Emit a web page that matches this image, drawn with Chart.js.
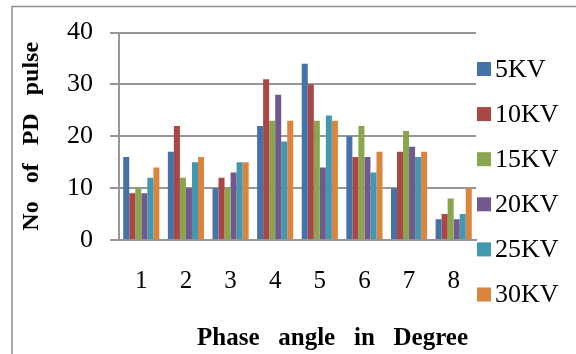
<!DOCTYPE html>
<html>
<head>
<meta charset="utf-8">
<script src="https://cdn.jsdelivr.net/npm/chart.js@4"></script>
<style>
  html, body { margin: 0; padding: 0; background: #fff; }
  #wrap { width: 576px; height: 354px; }
</style>
</head>
<body>
<div id="wrap"><canvas id="pdChart" width="576" height="354"></canvas></div>
<script>
// phase angle groups on the x axis
const phases = ['1', '2', '3', '4', '5', '6', '7', '8'];
// number of PD pulses per voltage level
const kv5  = [16, 17, 10, 22, 34, 20, 10, 4];
const kv10 = [9, 22, 12, 31, 30, 16, 17, 5];
const kv15 = [10, 12, 10, 23, 23, 22, 21, 8];
const kv20 = [9, 10, 13, 28, 14, 16, 18, 4];
const kv25 = [12, 15, 15, 19, 24, 13, 16, 5];
const kv30 = [14, 16, 15, 23, 23, 17, 17, 10];
const seriesNames = ['5KV', '10KV', '15KV', '20KV', '25KV', '30KV'];
const yTicks = [0, 10, 20, 30, 40];

const colors = ['#4572A7', '#AA4643', '#89A54E', '#71588F', '#4198AF', '#DB843D'];
const serif = "'Liberation Serif', 'Times New Roman', serif";
const gridGray = '#969696';

// frame, legend and x title
const extras = {
  id: 'extras',
  beforeDraw(chart) {
    const c = chart.ctx;
    c.save();
    c.strokeStyle = '#8f8f8f';
    c.lineWidth = 1.5;
    c.beginPath();
    c.moveTo(12, 360);
    c.lineTo(12, 6.5);
    c.lineTo(580, 6.5);
    c.stroke();
    c.restore();
  },
  afterDraw(chart) {
    const c = chart.ctx;
    const area = chart.chartArea;
    c.save();
    // legend
    c.font = '26px ' + serif;
    c.textBaseline = 'middle';
    c.textAlign = 'left';
    chart.data.datasets.forEach((ds, i) => {
      const y = 69 + i * 45.1;
      c.fillStyle = ds.backgroundColor;
      c.fillRect(area.right + 1, y - 7, 14, 14);
      c.fillStyle = '#000';
      c.fillText(ds.label, area.right + 19, y + 1);
    });
    // x axis title
    c.font = 'bold 25px ' + serif;
    c.textAlign = 'center';
    c.textBaseline = 'alphabetic';
    c.fillText('Phase   angle   in   Degree', (area.left + area.right) / 2 + 35, 345);
    c.restore();
  }
};

const allSeries = [kv5, kv10, kv15, kv20, kv25, kv30];

new Chart(document.getElementById('pdChart'), {
  type: 'bar',
  data: {
    labels: phases,
    datasets: allSeries.map((vals, i) => ({
      label: seriesNames[i],
      data: vals,
      backgroundColor: colors[i],
      borderWidth: 0,
      categoryPercentage: 0.81,
      barPercentage: 1
    }))
  },
  options: {
    responsive: false,
    animation: false,
    devicePixelRatio: 1,
    layout: { padding: { left: 12, right: 100, top: 30, bottom: 32 } },
    plugins: {
      legend: { display: false },
      tooltip: { enabled: false }
    },
    scales: {
      x: {
        grid: { display: false, drawTicks: false },
        border: { display: true, color: gridGray, width: 2 },
        ticks: {
          color: '#000',
          font: { family: serif, size: 25 },
          padding: 26,
          maxRotation: 0
        }
      },
      y: {
        min: 0,
        max: 40,
        afterFit(scale) { scale.width = 107; },
        afterBuildTicks(scale) { scale.ticks = yTicks.map(v => ({ value: v })); },
        grid: { color: gridGray, lineWidth: 2, tickLength: 9, drawTicks: true },
        border: { display: true, color: gridGray, width: 2 },
        ticks: {
          color: '#000',
          font: { family: serif, size: 26 },
          padding: 17
        },
        title: {
          display: true,
          text: 'No   of   PD   pulse',
          color: '#000',
          font: { family: serif, size: 24, weight: 'bold' },
          padding: { top: 5, bottom: 0 }
        }
      }
    }
  },
  plugins: [extras]
});
</script>
</body>
</html>
